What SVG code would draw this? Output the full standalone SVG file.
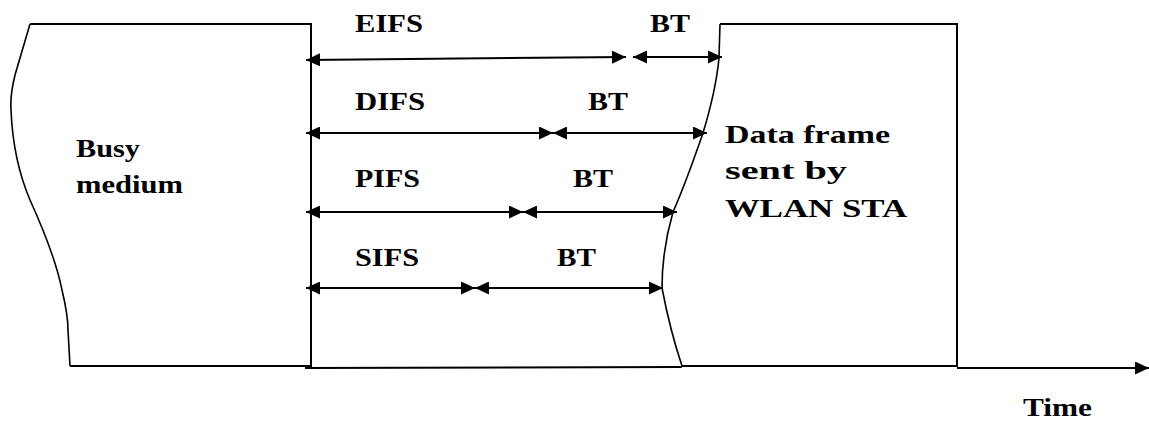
<svg xmlns="http://www.w3.org/2000/svg" width="1149" height="423" viewBox="0 0 1149 423">
<style>
.t{font-weight:bold;font-size:26px;fill:#000}
.ln{stroke:#000;stroke-width:2;fill:none}
.cv{stroke:#000;stroke-width:1.6;fill:none}
.ar{stroke:#000;stroke-width:2;fill:none;marker-start:url(#ah);marker-end:url(#ah)}
</style>
<defs>
<marker id="ah" viewBox="0 0 14 13" refX="14" refY="6.5" markerWidth="14" markerHeight="13" markerUnits="userSpaceOnUse" orient="auto-start-reverse">
<path d="M0,0 L14,6.5 L0,13 z" fill="#000"/>
</marker>
</defs>
<rect width="1149" height="423" fill="#fff"/>
<g font-family="'Liberation Serif', 'Times New Roman', 'DejaVu Serif', serif">
<g id="busy-medium">
<path class="cv" d="M30,24 L15,75 Q10,95 11,110 Q13,160 30,200 Q55,255 62,290 Q68,315 68,330 L70,366"/>
<path class="ln" d="M30,24 L311,24 L311,366 L70,366"/>
<text class="t" x="76" y="157" textLength="64" lengthAdjust="spacingAndGlyphs">Busy</text>
<text class="t" x="76" y="193" textLength="107" lengthAdjust="spacingAndGlyphs">medium</text>
</g>
<g id="data-frame">
<path class="cv" d="M720,24 L719,58 Q716,90 703,133 Q685,185 673,212 Q662,250 662,288 Q670,330 682,366"/>
<path class="ln" d="M720,24 L957,24 L957,367 M682,366 L957,366"/>
<text class="t" x="725" y="143" textLength="165" lengthAdjust="spacingAndGlyphs">Data frame</text>
<text class="t" x="725" y="179" textLength="122" lengthAdjust="spacingAndGlyphs">sent  by</text>
<text class="t" x="725" y="217" textLength="182" lengthAdjust="spacingAndGlyphs">WLAN STA</text>
</g>
<g id="time-axis">
<path class="ln" d="M305,368 L682,367"/>
<line x1="957" y1="368" x2="1149" y2="368" stroke="#000" stroke-width="2" marker-end="url(#ah)"/>
<text class="t" x="1023" y="416" textLength="69" lengthAdjust="spacingAndGlyphs">Time</text>
</g>
<g id="labels">
<text class="t" x="355" y="32" textLength="68" lengthAdjust="spacingAndGlyphs">EIFS</text>
<text class="t" x="650" y="32" textLength="40" lengthAdjust="spacingAndGlyphs">BT</text>
<text class="t" x="355" y="110" textLength="70" lengthAdjust="spacingAndGlyphs">DIFS</text>
<text class="t" x="588" y="110" textLength="40" lengthAdjust="spacingAndGlyphs">BT</text>
<text class="t" x="355" y="187" textLength="65" lengthAdjust="spacingAndGlyphs">PIFS</text>
<text class="t" x="573" y="187" textLength="40" lengthAdjust="spacingAndGlyphs">BT</text>
<text class="t" x="355" y="266" textLength="64" lengthAdjust="spacingAndGlyphs">SIFS</text>
<text class="t" x="557" y="266" textLength="39" lengthAdjust="spacingAndGlyphs">BT</text>
</g>
</g>
<g id="connectors">
<line class="ar" x1="306" y1="60" x2="626" y2="57"/>
<line class="ar" x1="633" y1="57" x2="722" y2="57"/>
<line class="ar" x1="306" y1="133" x2="553" y2="133"/>
<line class="ar" x1="553" y1="133" x2="707" y2="133"/>
<line class="ar" x1="306" y1="212" x2="523" y2="212"/>
<line class="ar" x1="523" y1="212" x2="677" y2="212"/>
<line class="ar" x1="306" y1="288" x2="475" y2="288"/>
<line class="ar" x1="475" y1="288" x2="663" y2="288"/>
</g>
</svg>
